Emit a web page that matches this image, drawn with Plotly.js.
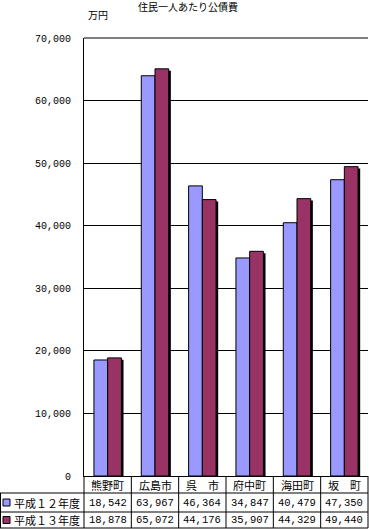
<!DOCTYPE html>
<html><head><meta charset="utf-8">
<script src="https://cdn.plot.ly/plotly-3.0.1.min.js"></script>
<style>html,body{margin:0;padding:0;background:#fff}#c{width:369px;height:529px}</style>
</head><body><div id="c"></div>
<script>
const categories = ["熊野町", "広島市", "呉　市", "府中町", "海田町", "坂　町"];
const seriesNames = ["平成１２年度", "平成１３年度"];
const h12 = [18542, 63967, 46364, 34847, 40479, 47350];
const h13 = [18878, 65072, 44176, 35907, 44329, 49440];
const yTicks = [0, 10000, 20000, 30000, 40000, 50000, 60000, 70000];
const yTickText = ["0", "10,000", "20,000", "30,000", "40,000", "50,000", "60,000", "70,000"];

const W = 369, H = 529;
const L = 84, R = 368, T = 38, B = 476;
const px = x => (x - L) / (R - L);
const py = y => (B - y) / (B - T);
const FONT = "Noto Sans CJK JP, sans-serif";
const MONO = "Liberation Mono, DejaVu Sans Mono, monospace";
const COLORS = ["#9999FF", "#993366"];
const idx = categories.map((_, i) => i);
const fmt = v => v.toLocaleString("en-US");

const bw = 0.29;
const traces = [
  {type: "bar", x: idx, y: h13.map(v => v - 300), offset: 0.045, width: bw,
   marker: {color: "#000", line: {width: 0}}, hoverinfo: "skip", showlegend: false},
  {type: "bar", name: seriesNames[0], x: idx, y: h12, offset: -bw, width: bw,
   marker: {color: COLORS[0], line: {color: "#000", width: 1}}},
  {type: "bar", name: seriesNames[1], x: idx, y: h13, offset: 0, width: bw,
   marker: {color: COLORS[1], line: {color: "#000", width: 1}}}
];

const shapes = [];
const ann = [];
const line = (x0, y0, x1, y1) => shapes.push({type: "line", xref: "paper", yref: "paper",
  x0: px(x0), y0: py(y0), x1: px(x1), y1: py(y1), line: {color: "#000", width: 1}});

// table geometry
const rowY = [476, 493, 512, 528];
const colW = (R - L) / categories.length;
line(0, rowY[1], R, rowY[1]);
line(0, rowY[2], R, rowY[2]);
line(0, rowY[3], R, rowY[3]);
line(0.5, rowY[1], 0.5, rowY[3]);
for (let i = 0; i <= categories.length; i++) {
  const x = L + i * colW;
  line(x, rowY[0], x, rowY[3]);
}
// top gridline
line(L, T, R, T);

categories.forEach((c, i) => {
  const cx = px(L + (i + 0.5) * colW);
  ann.push({xref: "paper", yref: "paper", x: cx, y: py((rowY[0] + rowY[1]) / 2), text: c,
    showarrow: false, xanchor: "center", yanchor: "middle", font: {family: FONT, size: 11, color: "#000"}});
  [h12, h13].forEach((s, k) => {
    ann.push({xref: "paper", yref: "paper", x: cx, y: py((rowY[k + 1] + rowY[k + 2]) / 2), text: fmt(s[i]),
      showarrow: false, xanchor: "center", yanchor: "middle", font: {family: MONO, size: 10.5, color: "#000"}});
  });
});
seriesNames.forEach((n, k) => {
  const cy = (rowY[k + 1] + rowY[k + 2]) / 2;
  shapes.push({type: "rect", xref: "paper", yref: "paper", x0: px(3), x1: px(10), y0: py(cy - 3.5), y1: py(cy + 3.5),
    fillcolor: COLORS[k], line: {color: "#000", width: 1}});
  ann.push({xref: "paper", yref: "paper", x: px(12), y: py(cy), text: n, showarrow: false,
    xanchor: "left", yanchor: "middle", font: {family: FONT, size: 11, color: "#000"}});
});
ann.push({xref: "paper", yref: "paper", x: px(188), y: py(6), text: "住民一人あたり公債費", showarrow: false,
  xanchor: "center", yanchor: "middle", font: {family: FONT, size: 10, color: "#000"}});
ann.push({xref: "paper", yref: "paper", x: px(86), y: py(14), text: "万円", showarrow: false,
  xanchor: "left", yanchor: "middle", font: {family: FONT, size: 10, color: "#000"}});

const layout = {
  width: W, height: H,
  margin: {l: L, r: W - R, t: T, b: H - B, pad: 0},
  paper_bgcolor: "#fff", plot_bgcolor: "#fff",
  barmode: "overlay", showlegend: false,
  xaxis: {range: [-0.5, categories.length - 0.5], showticklabels: false, showgrid: false,
    zeroline: false, showline: true, linecolor: "#000", linewidth: 1, ticks: "", fixedrange: true},
  yaxis: {range: [0, 70000], tickvals: yTicks, ticktext: yTickText, showgrid: true, gridcolor: "#000",
    gridwidth: 1, zeroline: false, showline: true, linecolor: "#000", linewidth: 1, ticks: "",
    ticklabelstandoff: 10, tickfont: {family: MONO, size: 10, color: "#000"}, fixedrange: true},
  shapes: shapes, annotations: ann
};
Plotly.newPlot("c", traces, layout, {displayModeBar: false, staticPlot: true});
</script></body></html>
